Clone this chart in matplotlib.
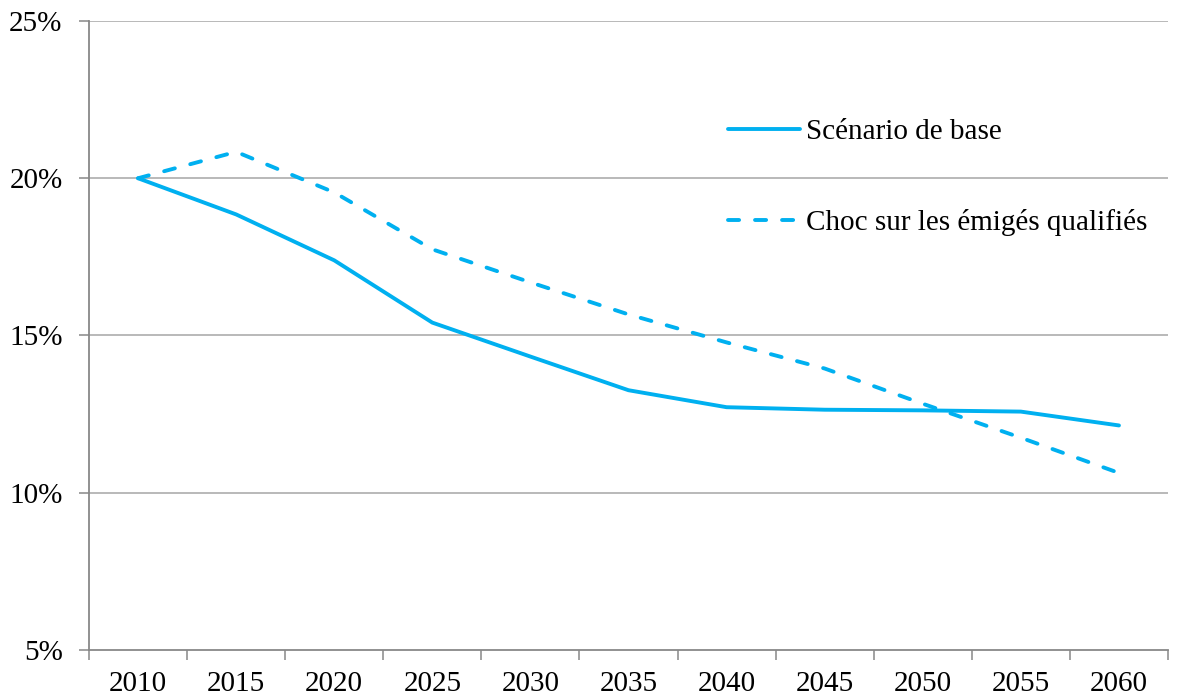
import matplotlib
matplotlib.use("Agg")
import matplotlib.pyplot as plt
from matplotlib.ticker import FixedLocator, FuncFormatter

years = ["2010", "2015", "2020", "2025", "2030", "2035", "2040", "2045", "2050", "2055", "2060"]
base = [20.0, 18.85, 17.39, 15.41, 14.33, 13.26, 12.72, 12.64, 12.62, 12.58, 12.14]
choc = [20.0, 20.84, 19.55, 17.74, 16.69, 15.67, 14.78, 13.95, 12.83, 11.75, 10.63]
labels = ["Scénario de base", "Choc sur les émigés qualifiés"]
yticks = [5, 10, 15, 20, 25]

plt.rcParams['font.family'] = ['Liberation Serif', 'DejaVu Serif']
color = "#00B0F0"
grid_c = "#A6A6A6"
spine_c = "#888888"
fs = 21

fig = plt.figure(figsize=(11.78, 6.99), dpi=100)
ax = fig.add_axes([89/1178, 1 - 650/699, (1168-89)/1178, (650-21)/699])

x = list(range(len(years)))
ax.plot(x, base, color=color, lw=2.8, solid_capstyle='round', solid_joinstyle='round', label=labels[0])
ax.plot(x, choc, color=color, lw=2.8, linestyle=(0, (2.85, 4.1)), dash_capstyle='round', label=labels[1])

ax.set_xlim(-0.5, len(years) - 0.5)
ax.set_ylim(5, 25)
ax.set_yticks(yticks)
ax.yaxis.set_major_formatter(FuncFormatter(lambda v, p: f"{int(v)}%"))
for yv in yticks[1:]:
    ax.axhline(yv, color=grid_c, lw=1.1, zorder=0)

ax.set_xticks(x)
ax.set_xticklabels(years)
ax.xaxis.set_minor_locator(FixedLocator([i - 0.5 for i in range(len(years) + 1)]))
ax.tick_params(axis='x', which='major', length=0, pad=15, labelsize=fs)
ax.tick_params(axis='x', which='minor', length=7, width=1.1, color=spine_c, direction='out')
ax.tick_params(axis='y', length=7, width=1.1, color=spine_c, pad=12, labelsize=fs)

for s in ['top', 'right']:
    ax.spines[s].set_visible(False)
for s in ['left', 'bottom']:
    ax.spines[s].set_color(spine_c)
    ax.spines[s].set_linewidth(1.3)

leg = ax.legend(loc='upper left', bbox_to_anchor=(0.5926, 0.845), frameon=False, fontsize=fs,
                handlelength=2.45, handletextpad=0.22, labelspacing=2.2, borderaxespad=0,
                borderpad=0)

fig.savefig("out.png", dpi=100)
